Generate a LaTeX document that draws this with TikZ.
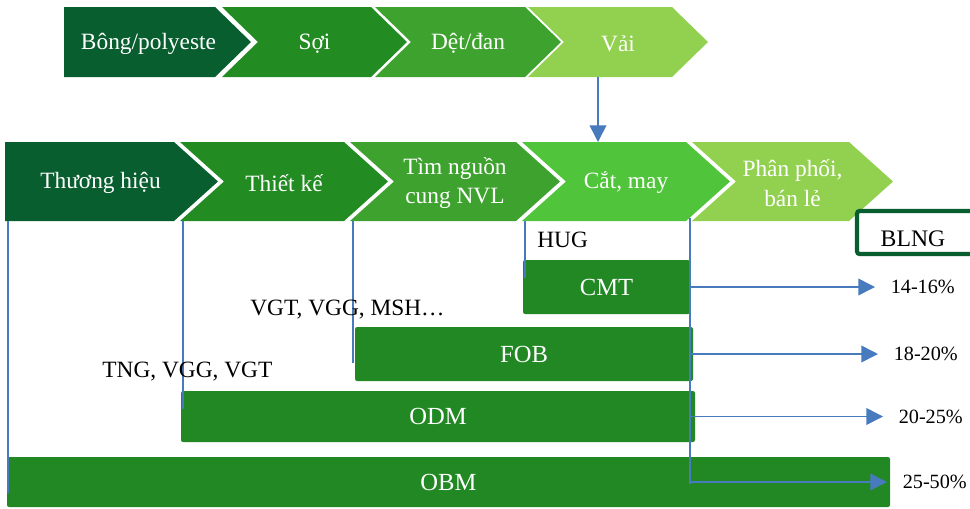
\documentclass[tikz,border=0pt]{standalone}
\usepackage{fontspec}
\setmainfont{Liberation Serif}
\usetikzlibrary{arrows.meta}
\definecolor{chevdark}{RGB}{8,94,47}
\definecolor{chevgreen}{RGB}{34,139,34}
\definecolor{chevmid}{RGB}{62,163,46}
\definecolor{chevbright}{RGB}{80,196,58}
\definecolor{chevlight}{RGB}{146,208,80}
\definecolor{bargreen}{RGB}{33,136,36}
\definecolor{linkblue}{RGB}{72,122,190}
\tikzset{
  >=Latex,
  flow/.style={-{Triangle[length=9.5pt,width=9.5pt]},draw=linkblue,line width=0.9pt},
  link/.style={draw=linkblue,line width=0.9pt},
  steptext/.style={
    text=white,
    align=center,
    inner sep=0pt,
    font=\fontsize{13.3}{17}\selectfont
  },
  bar/.style={fill=bargreen,rounded corners=1.2pt},
  bartext/.style={text=white,inner sep=0pt,font=\fontsize{14}{16}\selectfont},
  tag/.style={anchor=west,inner sep=0pt,font=\fontsize{13.3}{16}\selectfont},
  pct/.style={anchor=west,xshift=0.3cm,inner sep=0pt,font=\fontsize{11.5}{14}\selectfont},
  blngbox/.style={draw=chevdark,line width=2.4pt,rounded corners=1.5pt}
}
% #1 left, #2 top, #3 width, #4 height, #5 tip, #6 notch, #7 colour, #8 name, #9 text
\newcommand{\chevron}[9]{%
  \fill[#7] (#1,#2) -- ++({#3-#5},0) -- ++(#5,{#4/2}) -- ++(-#5,{#4/2})
    -- ++({-(#3-#5)},0) -- ++(#6,{-#4/2}) -- cycle;
  \coordinate (#8 top) at (#1,#2);
  \coordinate (#8 foot) at ({#1+3},{#2+#4});
  \node[steptext] (#8) at ({#1+(#3+#6/2-#5/2)/2},{#2+#4/2+1.5}) {#9};
}

\begin{document}
\begin{tikzpicture}[x=0.02cm,y=-0.02cm]
  \useasboundingbox (0,0) rectangle (970,508);
  \clip (0,0) rectangle (970,508);
  \fill[white] (0,0) rectangle (970,508);

  % Material chain
  \chevron{64}{7}{187}{70}{36}{0}{chevdark}{bong}{Bông/polyeste}
  \chevron{222}{7}{185}{70}{36}{36}{chevgreen}{soi}{Sợi}
  \chevron{375}{7}{186}{70}{36}{36}{chevmid}{det}{Dệt/đan}
  \chevron{528}{7}{180}{70}{36}{36}{chevlight}{vai}{Vải}

  % Garment chain
  \chevron{5}{142}{213}{79}{44}{0}{chevdark}{thuong}{Thương hiệu}
  \chevron{180}{142}{208}{79}{44}{44}{chevgreen}{thiet}{Thiết kế}
  \chevron{350}{142}{210}{79}{44}{44}{chevmid}{tim}{Tìm nguồn\\cung NVL}
  \chevron{522}{142}{208}{79}{44}{44}{chevbright}{cat}{Cắt, may}
  \chevron{692}{142}{201}{79}{44}{44}{chevlight}{phan}{Phân phối,\\bán lẻ}

  \coordinate (drop) at (598,0);
  \draw[flow] (drop |- vai foot) -- (drop |- cat top);

  % Production modes
  \path[bar] (523,260) rectangle (690,314) node[bartext,midway] (cmt) {CMT};
  \path[bar] (355,327) rectangle (693,381) node[bartext,midway] (fob) {FOB};
  \path[bar] (181,391) rectangle (695,442) node[bartext,midway] (odm) {ODM};
  \path[bar] (7,457) rectangle (890,507) node[bartext,midway] (obm) {OBM};

  \draw[link] (thuong foot) -- ([yshift=-0.22cm]thuong foot |- obm);
  \draw[link] (thiet foot) -- ([yshift=0.16cm]thiet foot |- odm);
  \draw[link] (tim foot) -- ([yshift=-0.18cm]tim foot |- fob);
  \draw[link] (cat foot) -- (cat foot |- cmt.north);

  % Margins
  \coordinate (spine) at (690,218);
  \draw[link] (spine) -- ([yshift=-0.04cm]spine |- obm);
  \draw[flow] (spine |- cmt) -- ++(185,0) node[pct] (p14) {14-16\%};
  \draw[flow] (spine |- fob) -- ++(188,0) node[pct] (p18) {18-20\%};
  \draw[flow] (spine |- odm) -- ++(193,0) node[pct] (p20) {20-25\%};
  \draw[flow] (spine |- obm) -- ++(197,0) node[pct] (p25) {25-50\%};

  % Company labels
  \node[tag] (hug) at (537,240) {HUG};
  \node[tag] (msh) at (250,310) {VGT, VGG, MSH…};
  \node[tag] (tng) at (102,372) {TNG, VGG, VGT};

  \draw[blngbox] (857,211) rectangle (985,254);
  \node[font=\fontsize{13.5}{16}\selectfont] (blng) at (913,239) {BLNG};
\end{tikzpicture}
\end{document}
